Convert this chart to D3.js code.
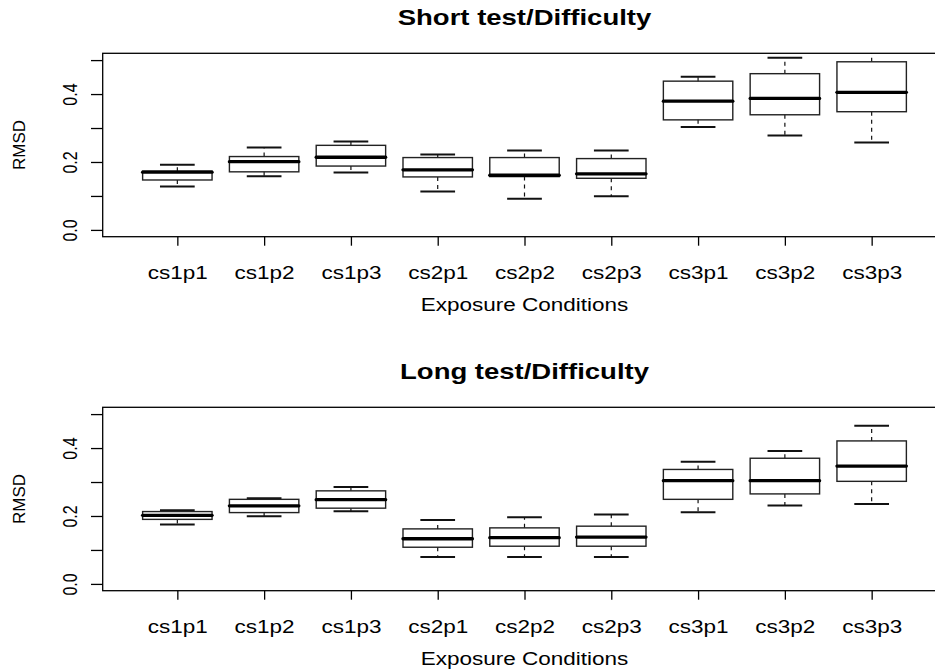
<!DOCTYPE html>
<html>
<head>
<meta charset="utf-8">
<script src="https://cdn.jsdelivr.net/npm/d3@7"></script>
<style>
  html, body { margin: 0; padding: 0; background: #fff; }
  svg { display: block; font-family: "Liberation Sans", Arial, Helvetica, sans-serif; }
</style>
</head>
<body>
<svg id="chart" width="935" height="670"></svg>
<script>
// Exposure conditions on the x axis
const categories = ["cs1p1", "cs1p2", "cs1p3", "cs2p1", "cs2p2", "cs2p3", "cs3p1", "cs3p2", "cs3p3"];

// Short test: five-number summaries of RMSD per condition
const shortLow  = [0.128, 0.158, 0.169, 0.113, 0.092, 0.099, 0.303, 0.278, 0.257];
const shortQ1   = [0.147, 0.171, 0.188, 0.156, 0.157, 0.152, 0.324, 0.339, 0.348];
const shortMed  = [0.170, 0.201, 0.214, 0.177, 0.161, 0.165, 0.379, 0.387, 0.405];
const shortQ3   = [0.173, 0.216, 0.249, 0.213, 0.213, 0.210, 0.438, 0.460, 0.495];
const shortHigh = [0.192, 0.243, 0.260, 0.222, 0.234, 0.234, 0.451, 0.507, 0.530];

// Long test: five-number summaries of RMSD per condition
const longLow  = [0.175, 0.199, 0.214, 0.079, 0.079, 0.079, 0.211, 0.231, 0.235];
const longQ1   = [0.190, 0.210, 0.223, 0.108, 0.111, 0.111, 0.249, 0.265, 0.302];
const longMed  = [0.202, 0.230, 0.248, 0.133, 0.136, 0.138, 0.304, 0.304, 0.347];
const longQ3   = [0.213, 0.249, 0.274, 0.162, 0.165, 0.170, 0.337, 0.370, 0.421];
const longHigh = [0.217, 0.252, 0.285, 0.188, 0.196, 0.204, 0.360, 0.391, 0.466];

const yTicks = [0, 0.1, 0.2, 0.3, 0.4, 0.5];
const titles = ["Short test/Difficulty", "Long test/Difficulty"];
const xLabel = "Exposure Conditions";
const yLabel = "RMSD";

const panels = [
  { title: titles[0], low: shortLow, q1: shortQ1, med: shortMed, q3: shortQ3, high: shortHigh },
  { title: titles[1], low: longLow,  q1: longQ1,  med: longMed,  q3: longQ3,  high: longHigh }
];

const svg = d3.select("#chart");
const stretch = 1.25;          // glyphs are drawn wider than tall
const plotLeft = 102.7, plotRight = 946.3;
const plotHeight = 183.4;
const panelTops = [53.3, 407.3];
const ink = "#111";

// x: positions 1..9, range padded by half a slot plus 4%
const xDomain = [0.5 - 0.36, categories.length + 0.5 + 0.36];
const x = d3.scaleLinear().domain(xDomain).range([plotLeft, plotRight]);
const boxHalf = 0.4, capHalf = 0.2;

panels.forEach((p, pi) => {
  const top = panelTops[pi];
  const bottom = top + plotHeight;
  const y = d3.scaleLinear().domain([-0.02, 0.52]).range([bottom, top]);
  const g = svg.append("g");

  // clip marks to the plotting region
  const clipId = "clip" + pi;
  svg.append("defs").append("clipPath").attr("id", clipId)
    .append("rect").attr("x", plotLeft).attr("y", top)
    .attr("width", plotRight - plotLeft).attr("height", plotHeight);

  const marks = g.append("g").attr("clip-path", `url(#${clipId})`);
  const idx = d3.range(categories.length);

  const box = marks.selectAll("g.box").data(idx).join("g").attr("class", "box");

  // upper and lower whiskers (dashed)
  box.append("line")
    .attr("x1", i => x(i + 1)).attr("x2", i => x(i + 1))
    .attr("y1", i => y(p.q3[i])).attr("y2", i => y(p.high[i]))
    .attr("stroke", ink).attr("stroke-width", 1.2).attr("stroke-dasharray", "4,4");
  box.append("line")
    .attr("x1", i => x(i + 1)).attr("x2", i => x(i + 1))
    .attr("y1", i => y(p.q1[i])).attr("y2", i => y(p.low[i]))
    .attr("stroke", ink).attr("stroke-width", 1.2).attr("stroke-dasharray", "4,4");

  // whisker caps
  box.append("line")
    .attr("x1", i => x(i + 1 - capHalf)).attr("x2", i => x(i + 1 + capHalf))
    .attr("y1", i => y(p.high[i])).attr("y2", i => y(p.high[i]))
    .attr("stroke", ink).attr("stroke-width", 2);
  box.append("line")
    .attr("x1", i => x(i + 1 - capHalf)).attr("x2", i => x(i + 1 + capHalf))
    .attr("y1", i => y(p.low[i])).attr("y2", i => y(p.low[i]))
    .attr("stroke", ink).attr("stroke-width", 2);

  // interquartile box
  box.append("rect")
    .attr("x", i => x(i + 1 - boxHalf))
    .attr("width", i => x(i + 1 + boxHalf) - x(i + 1 - boxHalf))
    .attr("y", i => y(p.q3[i]))
    .attr("height", i => y(p.q1[i]) - y(p.q3[i]))
    .attr("fill", "none").attr("stroke", "#222").attr("stroke-width", 1.4);

  // median
  box.append("line")
    .attr("x1", i => x(i + 1 - boxHalf)).attr("x2", i => x(i + 1 + boxHalf))
    .attr("y1", i => y(p.med[i])).attr("y2", i => y(p.med[i]))
    .attr("stroke", "#000").attr("stroke-width", 3.3).attr("stroke-linecap", "round");

  // plot frame
  g.append("rect")
    .attr("x", plotLeft).attr("y", top)
    .attr("width", plotRight - plotLeft).attr("height", plotHeight)
    .attr("fill", "none").attr("stroke", "#000").attr("stroke-width", 1.3);

  // x axis
  const xAxis = d3.axisBottom(x)
    .tickValues(d3.range(1, categories.length + 1))
    .tickFormat(v => categories[v - 1])
    .tickSize(9).tickSizeOuter(0);
  const gx = g.append("g").attr("transform", `translate(0,${bottom})`).call(xAxis);
  gx.select(".domain").remove();
  gx.selectAll(".tick line").attr("stroke", "#000").attr("stroke-width", 1.3);
  gx.selectAll(".tick text")
    .attr("y", null).attr("dy", null)
    .attr("transform", `translate(0,42.3) scale(${stretch},1)`)
    .attr("font-size", 18).attr("fill", "#000")
    .attr("font-family", "Liberation Sans, Arial, sans-serif");

  // y axis: every 0.1, labels on every other tick
  const fmt = d3.format(".1f");
  const yAxis = d3.axisLeft(y)
    .tickValues(yTicks)
    .tickFormat((v, k) => k % 2 === 0 ? fmt(v) : "")
    .tickSize(11.7).tickSizeOuter(0);
  const gy = g.append("g").attr("transform", `translate(${plotLeft},0)`).call(yAxis);
  gy.select(".domain").remove();
  gy.selectAll(".tick line").attr("stroke", "#000").attr("stroke-width", 1.3);
  gy.selectAll(".tick text")
    .attr("x", null).attr("dy", null)
    .attr("text-anchor", "middle")
    .attr("transform", `translate(-25.4,0) scale(${stretch},1) rotate(-90)`)
    .attr("font-size", 16).attr("fill", "#000")
    .attr("font-family", "Liberation Sans, Arial, sans-serif");

  // titles and axis labels
  const cx = (plotLeft + plotRight) / 2;
  g.append("text")
    .attr("transform", `translate(${cx},${top - 28.3}) scale(${stretch},1)`)
    .attr("text-anchor", "middle").attr("font-size", 22).attr("font-weight", "bold")
    .text(p.title);
  g.append("text")
    .attr("transform", `translate(${cx},${bottom + 74}) scale(${stretch},1)`)
    .attr("text-anchor", "middle").attr("font-size", 18)
    .text(xLabel);
  g.append("text")
    .attr("transform", `translate(25,${top + plotHeight / 2}) rotate(-90)`)
    .attr("text-anchor", "middle").attr("font-size", 17)
    .text(yLabel);
});
</script>
</body>
</html>
